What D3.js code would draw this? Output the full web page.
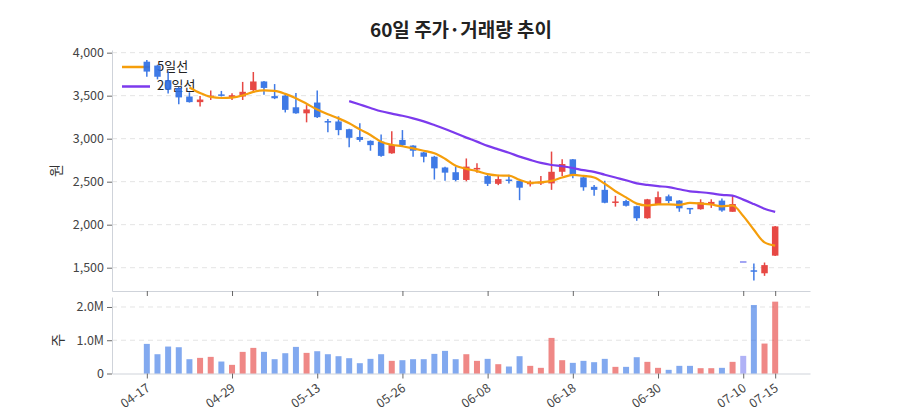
<!DOCTYPE html>
<html>
<head>
<meta charset="utf-8">
<script src="https://cdn.jsdelivr.net/npm/d3@7"></script>
<style>
  body { margin: 0; background: #fff; font-family: "Noto Sans CJK KR", "Noto Sans", sans-serif; }
</style>
</head>
<body>
<div id="chart"></div>
<script>
// data
const dates = ["04-17","04-18","04-21","04-22","04-23","04-24","04-25","04-28","04-29","04-30",
  "05-01","05-02","05-07","05-08","05-09","05-12","05-13","05-14","05-16","05-19",
  "05-20","05-21","05-22","05-23","05-26","05-27","05-28","05-29","05-30","06-02",
  "06-04","06-05","06-08","06-09","06-10","06-11","06-12","06-13","06-16","06-17",
  "06-18","06-19","06-20","06-23","06-24","06-25","06-26","06-27","06-30","07-01",
  "07-02","07-03","07-04","07-07","07-08","07-09","07-10","07-11","07-14","07-15"];
const opens = [3895,3850,3680,3590,3490,3425,3485,3515,3482,3490,
  3565,3665,3495,3500,3365,3295,3420,3205,3200,3110,
  3020,2975,2965,2830,2985,2920,2840,2790,2665,2610,
  2520,2645,2565,2475,2525,2510,2470,2480,2480,2615,
  2760,2550,2440,2405,2260,2275,2215,2075,2240,2330,
  2280,2195,2180,2235,2280,2150,1575,1470,1435,1640];
const highs = [3915,3860,3780,3600,3540,3495,3560,3555,3528,3660,
  3775,3670,3635,3525,3530,3390,3560,3230,3260,3115,
  3180,2980,3050,3085,3100,2925,2845,2800,2675,2675,
  2770,2715,2580,2580,2580,2515,2515,2565,2850,2760,
  2765,2555,2460,2510,2335,2290,2220,2300,2385,2350,
  2285,2195,2295,2295,2305,2345,1575,1550,1560,1985];
const lows = [3720,3690,3525,3400,3420,3375,3450,3490,3450,3450,
  3535,3510,3460,3305,3290,3190,3240,3075,3040,2900,
  2965,2860,2790,2825,2905,2790,2725,2525,2510,2505,
  2505,2605,2450,2460,2480,2285,2445,2460,2405,2565,
  2540,2395,2335,2250,2210,2210,2045,2070,2235,2250,
  2150,2125,2175,2195,2150,2150,1575,1350,1405,1635];
const closes = [3780,3720,3570,3480,3425,3455,3500,3505,3505,3545,
  3665,3590,3470,3335,3295,3340,3250,3195,3100,3010,
  2985,2925,2800,2925,2925,2860,2790,2655,2605,2520,
  2675,2660,2475,2530,2510,2430,2490,2500,2615,2705,
  2580,2435,2405,2255,2270,2220,2075,2295,2320,2275,
  2190,2185,2260,2265,2165,2240,1575,1460,1530,1980];
const volumes = [890000,580000,810000,790000,430000,470000,500000,360000,260000,650000,
  770000,650000,430000,610000,800000,620000,670000,580000,520000,460000,
  310000,440000,580000,380000,400000,430000,430000,590000,680000,430000,
  580000,380000,440000,280000,210000,520000,230000,170000,1070000,400000,
  320000,380000,340000,440000,200000,200000,490000,350000,170000,110000,
  230000,230000,160000,160000,170000,350000,530000,2060000,900000,2160000];
const tickLabels = ["04-17","04-29","05-13","05-26","06-08","06-18","06-30","07-10","07-15"];
const priceTicks = [1500, 2000, 2500, 3000, 3500, 4000];
const volumeTicks = [0, 1000000, 2000000];
const maSeries = [
  { label: "5일선", period: 5, color: "#f59e0b" },
  { label: "20일선", period: 20, color: "#7c3aed" }
];

const rows = dates.map((d, i) => ({
  i, date: d, open: opens[i], high: highs[i], low: lows[i], close: closes[i], volume: volumes[i]
}));

function maOf(period) {
  return rows.map((r, i) => i < period - 1 ? null
    : { i, v: d3.mean(closes.slice(i - period + 1, i + 1)) }).filter(d => d);
}

function candleColor(r) {
  if (r.close > r.open) return "#e53935";
  if (r.close < r.open) return "#2f6fe4";
  return "#7b7ff0";
}

const width = 900, height = 420;
const left = 112, right = 810;
const priceTop = 50, priceBottom = 291;
const volTop = 297, volBottom = 373.5;

const svg = d3.select("#chart").append("svg")
  .attr("width", width)
  .attr("height", height)
  .style("font-family", '"Noto Sans CJK KR", "Noto Sans", sans-serif');

const x = d3.scalePoint()
  .domain(d3.range(rows.length))
  .range([left, right])
  .padding(3.27);

const yPrice = d3.scaleLinear().domain([1229, 4031]).range([priceBottom, priceTop]);
const yVol = d3.scaleLinear().domain([0, 2300000]).range([volBottom, volTop]);

// grid
svg.append("g").selectAll("line")
  .data(priceTicks).enter().append("line")
  .attr("x1", left).attr("x2", right)
  .attr("y1", d => yPrice(d)).attr("y2", d => yPrice(d))
  .attr("stroke", "#e4e4e4").attr("stroke-dasharray", "5,4");
svg.append("g").selectAll("line")
  .data(volumeTicks.slice(1)).enter().append("line")
  .attr("x1", left).attr("x2", right)
  .attr("y1", d => yVol(d)).attr("y2", d => yVol(d))
  .attr("stroke", "#e4e4e4").attr("stroke-dasharray", "5,4");

// axes
function styleAxis(g) {
  g.select(".domain").attr("stroke", "#cfd3da");
  g.selectAll(".tick line").attr("stroke", "#666");
  g.selectAll(".tick text").attr("fill", "#444").style("font-size", "12.5px")
    .style("font-family", '"Noto Sans CJK KR", "Noto Sans", sans-serif');
}

const tickIdx = tickLabels.map(t => dates.indexOf(t));

svg.append("g")
  .attr("transform", `translate(${left},0)`)
  .call(d3.axisLeft(yPrice).tickValues(priceTicks).tickFormat(d3.format(",")).tickSize(5).tickSizeOuter(0))
  .call(styleAxis);

svg.append("g")
  .attr("transform", `translate(0,${priceBottom})`)
  .call(d3.axisBottom(x).tickValues(tickIdx).tickFormat("").tickSize(5).tickSizeOuter(0))
  .call(styleAxis);

svg.append("g")
  .attr("transform", `translate(${left},0)`)
  .call(d3.axisLeft(yVol).tickValues(volumeTicks)
    .tickFormat(d => d === 0 ? "0" : d3.format(".1f")(d / 1e6) + "M").tickSize(5).tickSizeOuter(0))
  .call(styleAxis);

const xAxisVol = svg.append("g")
  .attr("transform", `translate(0,${volBottom})`)
  .call(d3.axisBottom(x).tickValues(tickIdx).tickFormat(i => dates[i]).tickSize(5).tickSizeOuter(0))
  .call(styleAxis);
xAxisVol.selectAll(".tick text")
  .attr("text-anchor", "end")
  .attr("x", 0).attr("y", 0).attr("dy", "0.35em")
  .attr("transform", "translate(1,13) rotate(-35)");

// axis titles
svg.append("text")
  .attr("transform", `translate(57,${(priceTop + priceBottom) / 2}) rotate(-90)`)
  .attr("text-anchor", "middle").attr("dominant-baseline", "middle")
  .attr("fill", "#333").style("font-size", "14px")
  .text("원");
svg.append("text")
  .attr("transform", `translate(59,${yVol(1000000)}) rotate(-90)`)
  .attr("text-anchor", "middle").attr("dominant-baseline", "middle")
  .attr("fill", "#333").style("font-size", "14px")
  .text("주");

// legend
const legend = svg.append("g");
maSeries.forEach((s, k) => {
  const ly = 67 + k * 19.5;
  legend.append("line")
    .attr("x1", 122).attr("x2", 150).attr("y1", ly).attr("y2", ly)
    .attr("stroke", s.color).attr("stroke-width", 2.5);
  legend.append("text")
    .attr("x", 157).attr("y", ly).attr("dominant-baseline", "middle")
    .attr("fill", "#222").style("font-size", "13px")
    .text(s.label);
});

// volume bars
const barW = 6;
svg.append("g").selectAll("rect")
  .data(rows).enter().append("rect")
  .attr("x", d => x(d.i) - barW / 2)
  .attr("width", barW)
  .attr("y", d => yVol(d.volume))
  .attr("height", d => volBottom - yVol(d.volume))
  .attr("fill", candleColor)
  .attr("opacity", 0.6);

// candles
const bodyW = 6.5;
const candles = svg.append("g").selectAll("g")
  .data(rows).enter().append("g")
  .attr("opacity", 0.92);
candles.append("line")
  .attr("x1", d => x(d.i)).attr("x2", d => x(d.i))
  .attr("y1", d => yPrice(d.high)).attr("y2", d => yPrice(d.low))
  .attr("stroke", candleColor).attr("stroke-width", 1.5);
candles.append("rect")
  .attr("x", d => x(d.i) - bodyW / 2)
  .attr("width", bodyW)
  .attr("y", d => yPrice(Math.max(d.open, d.close)))
  .attr("height", d => Math.max(1.5, Math.abs(yPrice(d.open) - yPrice(d.close))))
  .attr("fill", candleColor);

// moving averages
const line = d3.line()
  .x(d => x(d.i))
  .y(d => yPrice(d.v))
  .curve(d3.curveMonotoneX);
maSeries.forEach(s => {
  svg.append("path")
    .datum(maOf(s.period))
    .attr("fill", "none")
    .attr("stroke", s.color)
    .attr("stroke-width", 2.2)
    .attr("d", line);
});

// title
svg.append("text")
  .attr("x", (left + right) / 2)
  .attr("y", 32)
  .attr("text-anchor", "middle")
  .attr("dominant-baseline", "middle")
  .attr("fill", "#222")
  .style("font-size", "19px")
  .style("font-weight", "bold")
  .text("60일 주가·거래량 추이");
</script>
</body>
</html>
